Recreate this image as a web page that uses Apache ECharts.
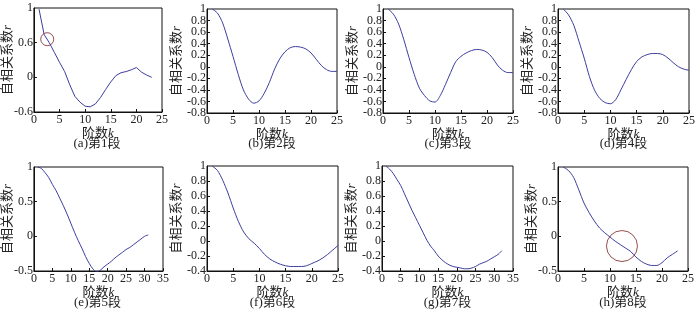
<!DOCTYPE html>
<html><head><meta charset="utf-8">
<script src="https://cdn.jsdelivr.net/npm/echarts@6/dist/echarts.min.js"></script>
<style>html,body{margin:0;padding:0;background:#fff}#c{width:700px;height:312px}</style>
</head><body><div id="c"></div>
<script>
// ---- data ----
const lagsA = [1,2,3,4,5,6,7,8,9,10,11,12,13,14,15,16,17,18,19,20,21,22,23];
const rA = [1.18,0.74,0.6,0.43,0.26,0.10,-0.13,-0.33,-0.43,-0.50,-0.51,-0.46,-0.35,-0.21,-0.08,0.03,0.08,0.10,0.13,0.17,0.09,0.04,0.0];
const lagsB = [1,2,3,4,5,6,7,8,9,10,11,12,13,14,15,16,17,18,19,20,21,22,23,24,25];
const rB = [1.0,0.93,0.76,0.48,0.18,-0.13,-0.40,-0.56,-0.63,-0.59,-0.46,-0.27,-0.04,0.14,0.26,0.33,0.35,0.34,0.31,0.24,0.13,0.02,-0.05,-0.08,-0.08];
const lagsC = [1,2,3,4,5,6,7,8,9,10,11,12,13,14,15,16,17,18,19,20,21,22,23,24,25];
const rC = [1.0,0.91,0.74,0.47,0.16,-0.13,-0.37,-0.50,-0.59,-0.61,-0.50,-0.31,-0.10,0.09,0.18,0.24,0.28,0.30,0.29,0.25,0.16,0.03,-0.06,-0.10,-0.10];
const lagsD = [1,2,3,4,5,6,7,8,9,10,11,12,13,14,15,16,17,18,19,20,21,22,23,24,25];
const rD = [1.0,0.90,0.72,0.44,0.15,-0.17,-0.41,-0.55,-0.62,-0.64,-0.57,-0.40,-0.22,-0.05,0.09,0.17,0.21,0.23,0.23,0.21,0.15,0.07,0.0,-0.04,-0.06];
const lagsE = [1,2,3,4,5,6,7,8,9,10,11,12,13,14,15,16,17,18,19,20,21,22,23,24,25,26,27,28,29,30,31];
const rE = [1.0,0.98,0.92,0.85,0.75,0.66,0.55,0.44,0.32,0.19,0.06,-0.06,-0.17,-0.29,-0.39,-0.47,-0.51,-0.49,-0.44,-0.40,-0.36,-0.31,-0.27,-0.23,-0.19,-0.16,-0.12,-0.08,-0.04,0.0,0.02];
const lagsF = [1,2,3,4,5,6,7,8,9,10,11,12,13,14,15,16,17,18,19,20,21,22,23,24,25];
const rF = [1.0,0.94,0.81,0.64,0.44,0.26,0.12,0.03,-0.03,-0.10,-0.18,-0.24,-0.28,-0.31,-0.33,-0.34,-0.34,-0.34,-0.33,-0.30,-0.27,-0.23,-0.18,-0.12,-0.06];
const lagsG = [1,2,3,4,5,6,7,8,9,10,11,12,13,14,15,16,17,18,19,20,21,22,23,24,25,26,27,28,29,30,31,32];
const rG = [1.0,0.96,0.90,0.82,0.74,0.63,0.52,0.41,0.31,0.21,0.11,0.01,-0.07,-0.13,-0.20,-0.25,-0.29,-0.32,-0.34,-0.35,-0.36,-0.37,-0.37,-0.36,-0.34,-0.31,-0.29,-0.27,-0.24,-0.21,-0.18,-0.13];
const lagsH = [1,2,3,4,5,6,7,8,9,10,11,12,13,14,15,16,17,18,19,20,21,22,23];
const rH = [1.0,0.95,0.85,0.67,0.48,0.34,0.22,0.12,0.05,-0.01,-0.07,-0.12,-0.17,-0.22,-0.30,-0.36,-0.40,-0.42,-0.42,-0.38,-0.31,-0.26,-0.21];
const circleA = [[2.6, 0.66]];
const circleH = [[12.3, -0.14]];
const captions = ['(a)第1段','(b)第2段','(c)第3段','(d)第4段','(e)第5段','(f)第6段','(g)第7段','(h)第8段'];
const xMax = [25,25,25,25,35,25,35,25];
const yMin = [-0.6,-0.8,-0.8,-0.8,-0.5,-0.4,-0.4,-0.5];
const yMax = [1.2,1,1,1,1,1,1,1];
const yStep = [0.6,0.2,0.2,0.2,0.5,0.2,0.2,0.5];

const lags = [lagsA,lagsB,lagsC,lagsD,lagsE,lagsF,lagsG,lagsH];
const vals = [rA,rB,rC,rD,rE,rF,rG,rH];

// ---- layout ----
const grids = [
  {left:32,top:8,width:130,height:104},
  {left:207,top:9,width:130,height:104},
  {left:383,top:9,width:130,height:104},
  {left:558,top:9,width:131,height:104},
  {left:32,top:167,width:131,height:104},
  {left:207,top:166,width:131,height:105},
  {left:382,top:166,width:131,height:105},
  {left:558,top:167,width:130,height:104}
];
const FONT = '"Liberation Serif","Noto Sans CJK SC",serif';
const LINE = '#3d3d9e';
const AX = '#111';
const fmt = v => { if (Math.abs(v-1.2)<1e-9) return '1'; const r=Math.round(v*10)/10; return String(Math.abs(r)<1e-9?0:r); };

const xAxis = [], yAxis = [], yAxisEnds = [], series = [], graphic = [];
grids.forEach((g,i)=>{
  g.show = true; g.borderColor = AX; g.borderWidth = 1; g.containLabel = false;
  xAxis.push({type:'value',gridIndex:i,min:0,max:xMax[i],interval:5,
    axisLine:{show:true,onZero:false,lineStyle:{color:AX}},
    axisTick:{show:true,inside:true,length:3,lineStyle:{color:AX}},
    splitLine:{show:false},
    axisLabel:{color:'#222',fontFamily:FONT,fontSize:12,margin:2,hideOverlap:false,showMinLabel:true,showMaxLabel:true},
    name:'阶数{i|k}',nameLocation:'middle',nameGap:8,
    nameTextStyle:{color:'#222',fontFamily:FONT,fontSize:13,rich:{i:{fontStyle:'italic',fontFamily:FONT,fontSize:13,color:'#222'}}}
  });
  yAxis.push({type:'value',gridIndex:i,position:'left',min:yMin[i],max:yMax[i],interval:yStep[i],
    axisLine:{show:true,onZero:false,lineStyle:{color:AX}},
    axisTick:{show:true,inside:true,length:3,lineStyle:{color:AX}},
    splitLine:{show:false},
    axisLabel:{color:'#222',fontFamily:FONT,fontSize:12,margin:1,hideOverlap:false,showMinLabel:false,showMaxLabel:false,formatter:fmt},
    name:'自相关系数{i|r}',nameLocation:'middle',nameGap:19,nameRotate:90,
    nameTextStyle:{color:'#222',fontFamily:FONT,fontSize:13,rich:{i:{fontStyle:'italic',fontFamily:FONT,fontSize:13,color:'#222'}}}
  });
  // helper axis carrying only the end labels (min and max) of the same scale
  yAxisEnds.push({type:'value',gridIndex:i,position:'left',offset:0,min:yMin[i],max:yMax[i],interval:yMax[i]-yMin[i],
    axisLine:{show:false,onZero:false},axisTick:{show:false},splitLine:{show:false},
    axisLabel:{color:'#222',fontFamily:FONT,fontSize:12,margin:1,hideOverlap:false,showMinLabel:true,showMaxLabel:true,
      formatter:v=> (Math.abs(v-yMin[i])<1e-9||Math.abs(v-yMax[i])<1e-9) ? fmt(v) : ''}
  });
  series.push({type:'line',xAxisIndex:i,yAxisIndex:i,showSymbol:false,symbol:'none',
    smooth:i===0?false:0.3,clip:true,
    lineStyle:{color:LINE,width:1},
    data:lags[i].map((k,j)=>[k,vals[i][j]])});
  graphic.push({type:'text',x:g.left+g.width/2,y:(i<4?144:303),
    style:{text:captions[i],fill:'#222',font:'13px '+FONT,textAlign:'center',textVerticalAlign:'middle'}});
});
series.push({type:'scatter',xAxisIndex:0,yAxisIndex:0,symbol:'circle',symbolSize:13,
  itemStyle:{color:'rgba(0,0,0,0)',borderColor:'#7a2222',borderWidth:1},data:circleA});
series.push({type:'scatter',xAxisIndex:7,yAxisIndex:7,symbol:'circle',symbolSize:31,
  itemStyle:{color:'rgba(0,0,0,0)',borderColor:'#7a2222',borderWidth:1},data:circleH});

const chart = echarts.init(document.getElementById('c'),null,{renderer:'canvas'});
chart.setOption({animation:false,backgroundColor:'#fff',grid:grids,xAxis,yAxis:yAxis.concat(yAxisEnds),series,graphic});
</script></body></html>
